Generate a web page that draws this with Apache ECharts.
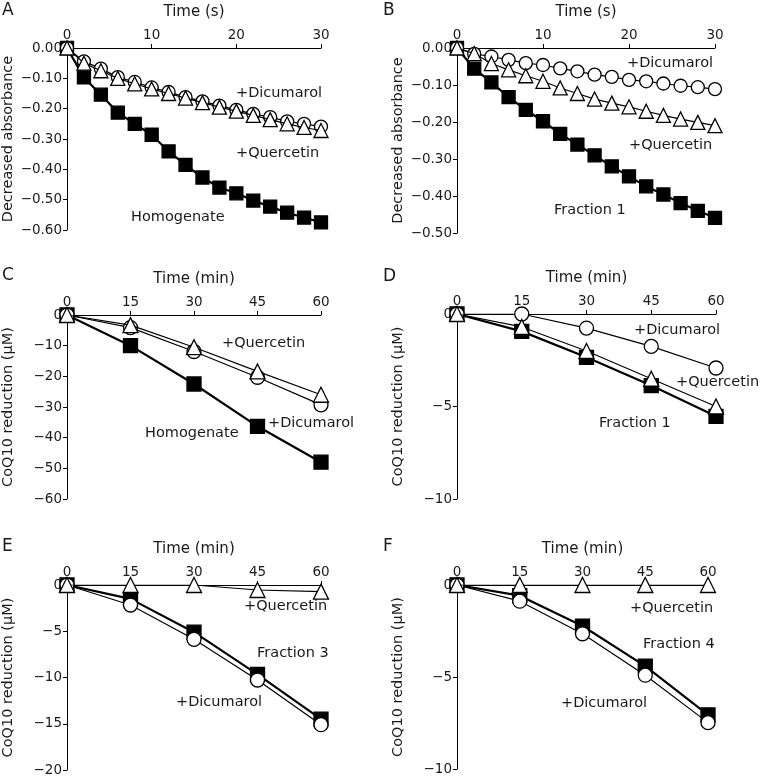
<!DOCTYPE html>
<html>
<head>
<meta charset="utf-8">
<script src="https://cdn.jsdelivr.net/npm/echarts@6/dist/echarts.min.js"></script>
<style>
  html, body { margin: 0; padding: 0; background: #fff; }
  #chart { width: 761px; height: 778px; }
</style>
</head>
<body>
<div id="chart"></div>
<script>
// time points
const timeSec = [0, 2, 4, 6, 8, 10, 12, 14, 16, 18, 20, 22, 24, 26, 28, 30];
const timeMin = [0, 15, 30, 45, 60];

// A - homogenate, decreased absorbance
const aHomogenate = [0, -0.097, -0.154, -0.213, -0.25, -0.286, -0.341, -0.385, -0.427, -0.46, -0.479, -0.503, -0.523, -0.543, -0.559, -0.575];
const aDicumarol = [0, -0.044, -0.068, -0.096, -0.112, -0.13, -0.145, -0.162, -0.176, -0.19, -0.204, -0.217, -0.228, -0.242, -0.25, -0.259];
const aQuercetin = [0, -0.05, -0.075, -0.1, -0.118, -0.135, -0.15, -0.165, -0.18, -0.195, -0.208, -0.222, -0.236, -0.25, -0.262, -0.272];

// B - fraction 1, decreased absorbance
const bFraction1 = [0, -0.056, -0.093, -0.133, -0.167, -0.198, -0.232, -0.261, -0.29, -0.32, -0.347, -0.374, -0.396, -0.419, -0.44, -0.459];
const bDicumarol = [0, -0.016, -0.023, -0.032, -0.041, -0.046, -0.055, -0.063, -0.072, -0.078, -0.086, -0.09, -0.096, -0.102, -0.106, -0.111];
const bQuercetin = [0, -0.015, -0.042, -0.059, -0.075, -0.09, -0.108, -0.123, -0.138, -0.149, -0.159, -0.171, -0.182, -0.192, -0.201, -0.21];

// C - homogenate, CoQ10 reduction
const cHomogenate = [0, -10, -22.5, -36.3, -48];
const cDicumarol = [0, -4.1, -11.9, -20.3, -29.3];
const cQuercetin = [0, -3.3, -10.5, -18.4, -26];

// D - fraction 1
const dFraction1 = [0, -0.94, -2.34, -3.87, -5.53];
const dDicumarol = [0, 0, -0.76, -1.75, -2.92];
const dQuercetin = [0, -0.7, -2.0, -3.5, -5.0];

// E - fraction 3
const eFraction3 = [0, -1.5, -5.1, -9.66, -14.5];
const eDicumarol = [0, -2.16, -5.87, -10.27, -15.1];
const eQuercetin = [0, 0, 0, -0.54, -0.72];

// F - fraction 4
const fFraction4 = [0, -0.58, -2.23, -4.41, -7.06];
const fDicumarol = [0, -0.88, -2.65, -4.9, -7.48];
const fQuercetin = [0, 0, 0, 0, 0];

const FONT = 'DejaVu Sans';
const INK = '#1a1a1a';

const grids = [
  { left: 67, top: 48, width: 254, height: 182 },
  { left: 457, top: 48, width: 258, height: 185 },
  { left: 67, top: 315, width: 254, height: 184 },
  { left: 457, top: 314, width: 259, height: 185 },
  { left: 67, top: 585, width: 254, height: 185 },
  { left: 457, top: 585, width: 251, height: 184 }
];

function minus(v, digits) {
  const s = Math.abs(v).toFixed(digits);
  return v < 0 ? '\u2212' + s : s;
}

function xAxis(i, max, interval, name) {
  return {
    gridIndex: i, type: 'value', position: 'top', min: 0, max: max, interval: interval,
    name: name, nameLocation: 'middle', nameGap: 28,
    nameTextStyle: { fontFamily: FONT, fontSize: 15, color: INK },
    axisLine: { onZero: false, lineStyle: { color: '#000', width: 1 } },
    axisTick: { show: true, length: 4, lineStyle: { color: '#000' } },
    axisLabel: { fontFamily: FONT, fontSize: 13.5, color: INK, margin: 6 },
    splitLine: { show: false }
  };
}

function yAxis(i, min, interval, digits, name) {
  return {
    gridIndex: i, type: 'value', min: min, max: 0, interval: interval,
    name: name, nameLocation: 'middle', nameGap: 51,
    nameTextStyle: { fontFamily: FONT, fontSize: 14.5, color: INK },
    axisLine: { onZero: false, lineStyle: { color: '#000', width: 1 } },
    axisTick: { show: true, length: 4, lineStyle: { color: '#000' } },
    axisLabel: {
      fontFamily: FONT, fontSize: 13.5, color: INK, margin: 5,
      formatter: v => minus(v, digits)
    },
    splitLine: { show: false }
  };
}

function pairs(xs, ys) {
  return xs.map((x, k) => [x, ys[k]]);
}

function line(i, xs, ys, kind, size) {
  const s = {
    type: 'line', xAxisIndex: i, yAxisIndex: i, data: pairs(xs, ys),
    symbolSize: size, showSymbol: true, animation: false, silent: true,
    lineStyle: { color: '#000', width: 1.2 },
    itemStyle: { color: '#fff', borderColor: '#000', borderWidth: 1.3 },
    z: 3
  };
  if (kind === 'square') {
    s.symbol = 'rect';
    s.lineStyle.width = 2.2;
    s.itemStyle.color = '#000';
    s.z = 2;
  } else if (kind === 'circle') {
    s.symbol = 'circle';
    s.z = 3;
  } else {
    s.symbol = 'triangle';
    s.z = 4;
  }
  return s;
}

function txt(x, y, text, size) {
  return {
    type: 'text', x: x, y: y, silent: true,
    style: { text: text, fontFamily: FONT, fontSize: size || 14.5, fill: INK, textVerticalAlign: 'middle' }
  };
}

const option = {
  backgroundColor: '#fff',
  animation: false,
  grid: grids,
  xAxis: [
    xAxis(0, 30, 10, 'Time (s)'),
    xAxis(1, 30, 10, 'Time (s)'),
    xAxis(2, 60, 15, 'Time (min)'),
    xAxis(3, 60, 15, 'Time (min)'),
    xAxis(4, 60, 15, 'Time (min)'),
    xAxis(5, 60, 15, 'Time (min)')
  ],
  yAxis: [
    yAxis(0, -0.6, 0.1, 2, 'Decreased absorbance'),
    yAxis(1, -0.5, 0.1, 2, 'Decreased absorbance'),
    yAxis(2, -60, 10, 0, 'CoQ10 reduction (\u03bcM)'),
    yAxis(3, -10, 5, 0, 'CoQ10 reduction (\u03bcM)'),
    yAxis(4, -20, 5, 0, 'CoQ10 reduction (\u03bcM)'),
    yAxis(5, -10, 5, 0, 'CoQ10 reduction (\u03bcM)')
  ],
  series: [
    line(0, timeSec, aHomogenate, 'square', 13),
    line(0, timeSec, aDicumarol, 'circle', 13),
    line(0, timeSec, aQuercetin, 'triangle', 14),
    line(1, timeSec, bFraction1, 'square', 13),
    line(1, timeSec, bDicumarol, 'circle', 13),
    line(1, timeSec, bQuercetin, 'triangle', 14),
    line(2, timeMin, cHomogenate, 'square', 14),
    line(2, timeMin, cDicumarol, 'circle', 14),
    line(2, timeMin, cQuercetin, 'triangle', 15),
    line(3, timeMin, dFraction1, 'square', 14),
    line(3, timeMin, dDicumarol, 'circle', 14),
    line(3, timeMin, dQuercetin, 'triangle', 15),
    line(4, timeMin, eFraction3, 'square', 14),
    line(4, timeMin, eDicumarol, 'circle', 14),
    line(4, timeMin, eQuercetin, 'triangle', 15),
    line(5, timeMin, fFraction4, 'square', 14),
    line(5, timeMin, fDicumarol, 'circle', 14),
    line(5, timeMin, fQuercetin, 'triangle', 15)
  ],
  graphic: [
    txt(2, 11, 'A', 17), txt(383, 11, 'B', 17),
    txt(2, 276, 'C', 17), txt(383, 277, 'D', 17),
    txt(2, 547, 'E', 17), txt(383, 547, 'F', 17),
    // A
    txt(236, 93, '+Dicumarol'), txt(236, 153, '+Quercetin'), txt(131, 217, 'Homogenate'),
    // B
    txt(627, 63, '+Dicumarol'), txt(629, 145, '+Quercetin'), txt(554, 210, 'Fraction 1'),
    // C
    txt(222, 343, '+Quercetin'), txt(268, 423, '+Dicumarol'), txt(145, 433, 'Homogenate'),
    // D
    txt(634, 330, '+Dicumarol'), txt(676, 382, '+Quercetin'), txt(599, 423, 'Fraction 1'),
    // E
    txt(244, 606, '+Quercetin'), txt(257, 653, 'Fraction 3'), txt(176, 702, '+Dicumarol'),
    // F
    txt(630, 608, '+Quercetin'), txt(643, 644, 'Fraction 4'), txt(561, 703, '+Dicumarol')
  ]
};

const chart = echarts.init(document.getElementById('chart'), null, { renderer: 'canvas' });
chart.setOption(option);
</script>
</body>
</html>
